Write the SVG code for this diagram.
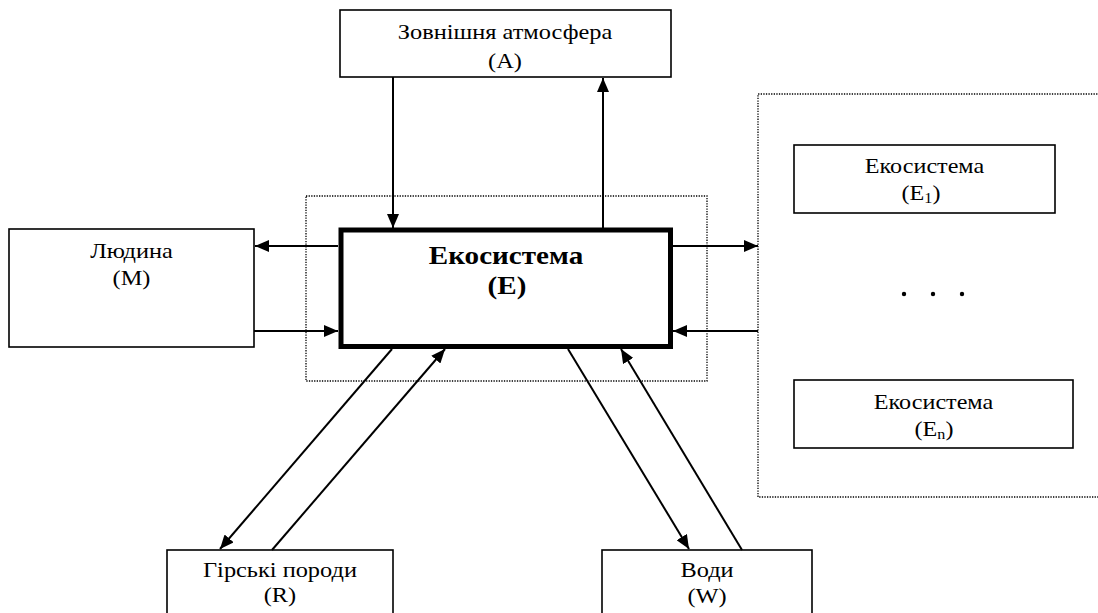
<svg xmlns="http://www.w3.org/2000/svg" width="1098" height="613" viewBox="0 0 1098 613">
<style>
.box{fill:#fff;stroke:#000;stroke-width:1.6}
.main{fill:#fff;stroke:#000;stroke-width:5}
.dot{fill:none;stroke:#000;stroke-width:1.3;stroke-dasharray:1.3 1.3}
.c{fill:none;stroke:#000;stroke-width:2}
.t{font-family:"Liberation Serif","Times New Roman",serif;font-size:21px;text-anchor:middle;fill:#000}
.b{font-family:"Liberation Serif","Times New Roman",serif;font-size:26px;font-weight:bold;text-anchor:middle;fill:#000}
</style>
<defs>
<marker id="ah" markerUnits="userSpaceOnUse" markerWidth="14" markerHeight="12" refX="14" refY="6" orient="auto">
<path d="M0,0 L14,6 L0,12 z" fill="#000"/>
</marker>
</defs>
<rect width="1098" height="613" fill="#fff"/>
<g id="frames">
<rect class="dot" x="306" y="196" width="401" height="185"/>
<path class="dot" d="M1100,94 H758 V497 H1100"/>
</g>
<g id="node-A">
<rect class="box" x="340" y="10" width="331" height="67"/>
<text class="t" transform="translate(505,39) scale(1.16,1)">Зовнішня атмосфера</text>
<text class="t" transform="translate(505,68) scale(1.16,1)">(A)</text>
</g>
<g id="node-M">
<rect class="box" x="9" y="229" width="245" height="118"/>
<text class="t" transform="translate(131.5,258) scale(1.16,1)">Людина</text>
<text class="t" transform="translate(131.5,285) scale(1.16,1)">(M)</text>
</g>
<g id="node-E">
<rect class="main" x="341" y="230" width="329.5" height="116.5"/>
<text class="b" transform="translate(506,264) scale(1.12,1)">Екосистема</text>
<text class="b" transform="translate(507,294) scale(1.12,1)">(E)</text>
</g>
<g id="node-E1">
<rect class="box" x="794" y="145" width="261" height="68"/>
<text class="t" transform="translate(924.5,173) scale(1.15,1)">Екосистема</text>
<text class="t" transform="translate(921,200) scale(1.15,1)">(E<tspan font-size="14" dy="3">1</tspan><tspan dy="-3">)</tspan></text>
</g>
<g id="dots">
<circle cx="904" cy="294" r="2.2"/>
<circle cx="933" cy="294" r="2.2"/>
<circle cx="962" cy="294" r="2.2"/>
</g>
<g id="node-En">
<rect class="box" x="794" y="380" width="279" height="68"/>
<text class="t" transform="translate(933.5,409) scale(1.15,1)">Екосистема</text>
<text class="t" transform="translate(934,436) scale(1.15,1)">(E<tspan font-size="14" dy="3">n</tspan><tspan dy="-3">)</tspan></text>
</g>
<g id="node-R">
<rect class="box" x="167" y="550" width="226" height="80"/>
<text class="t" transform="translate(280,577) scale(1.16,1)">Гірські породи</text>
<text class="t" transform="translate(280,602) scale(1.16,1)">(R)</text>
</g>
<g id="node-W">
<rect class="box" x="602" y="550" width="210" height="80"/>
<text class="t" transform="translate(707,577) scale(1.16,1)">Води</text>
<text class="t" transform="translate(707,603) scale(1.16,1)">(W)</text>
</g>
<g id="connectors">
<line class="c" x1="393" y1="77" x2="393" y2="228" marker-end="url(#ah)"/>
<line class="c" x1="603" y1="228" x2="603" y2="78" marker-end="url(#ah)"/>
<line class="c" x1="338" y1="246" x2="255" y2="246" marker-end="url(#ah)"/>
<line class="c" x1="254" y1="331" x2="338" y2="331" marker-end="url(#ah)"/>
<line class="c" x1="673" y1="246" x2="758" y2="246" marker-end="url(#ah)"/>
<line class="c" x1="758" y1="331" x2="673" y2="331" marker-end="url(#ah)"/>
<line class="c" x1="392" y1="349" x2="220" y2="549" marker-end="url(#ah)"/>
<line class="c" x1="272" y1="550" x2="445" y2="349" marker-end="url(#ah)"/>
<line class="c" x1="568" y1="349" x2="689" y2="549" marker-end="url(#ah)"/>
<line class="c" x1="742" y1="550" x2="621" y2="349" marker-end="url(#ah)"/>
</g>
</svg>
